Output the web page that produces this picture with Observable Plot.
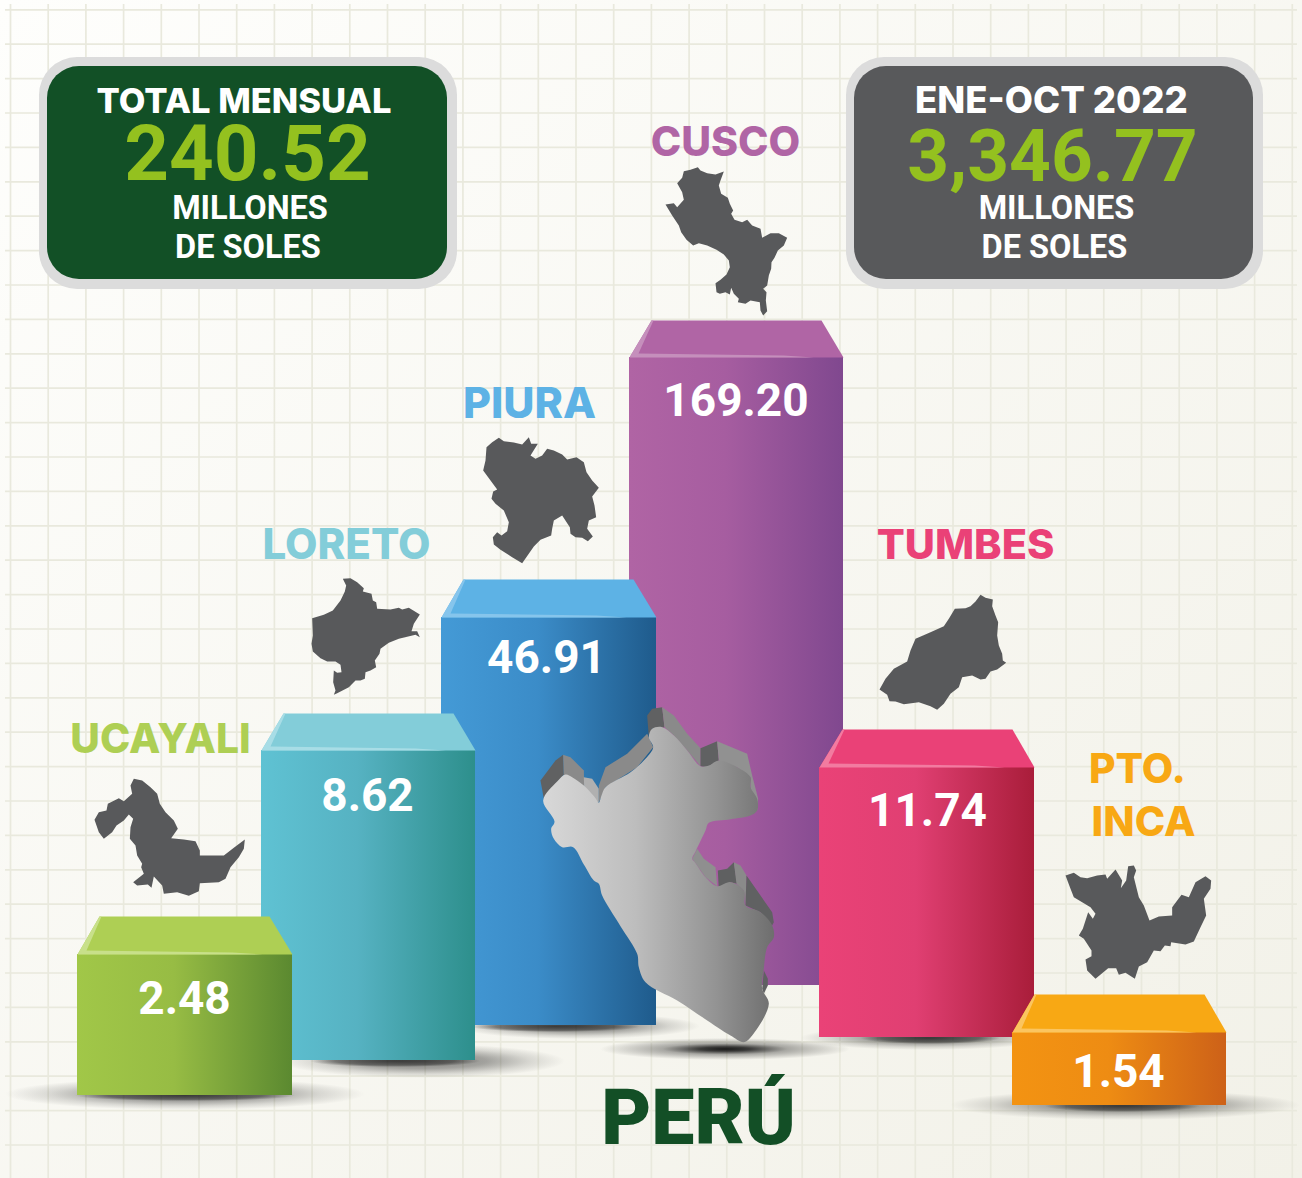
<!DOCTYPE html>
<html><head><meta charset="utf-8">
<style>html,body{margin:0;padding:0;background:#f8f7f1}svg{display:block}</style>
<script src="https://cdn.jsdelivr.net/npm/d3@7"></script>
<script src="https://cdn.jsdelivr.net/npm/@observablehq/plot@0.6"></script>
</head><body>
<script>
// Values printed on the bars (millions of soles)
const regions = ["CUSCO","PIURA","TUMBES","LORETO","UCAYALI","PTO. INCA"];
const amounts = ["169.20","46.91","11.74","8.62","2.48","1.54"];
// Drawn extents of the bars
const barLeft  = [629,441,819,261,77,1012];
const barRight = [843,656,1034,475,292,1226];
const barTop   = [357,617,767,750,954,1032];
const barBase  = [985,1025,1037,1060,1095,1105];
const backLeft = [651,463,842,283,99,1034];
const backRight= [821,633,1012,453,269,1204];
const backTop  = [320,579,729,713,916,994];
const faceStart= ["#b064a4","#449ad6","#ea4277","#5fc2d3","#a1c748","#f39312"];
const faceMid  = ["#a65da0","#3b8cc8","#e03f72","#56b2c2","#97bc44","#ee8c13"];
const faceEnd  = ["#80488f","#1f5b8c","#a91d3a","#2d8f8c","#5b8930","#cd6118"];
const topColor = ["#b065a5","#5db2e5","#ea4177","#83cdd9","#aecf54","#f8a814"];
const topEdge  = ["#c58fbc","#86c5ec","#f27ba0","#a8dde6","#c8e08a","#fbc560"];
const amountX  = [735.5,546,927,367,184,1118];
const amountY  = [401,658,811,796,999,1072];

const nameText  = ["CUSCO","PIURA","TUMBES","LORETO","UCAYALI","PTO.","INCA"];
const nameX     = [725,529,965,346,160,1137,1143];
const nameY     = [142,404,545,545,739,769,822];
const nameSize  = [41,43,41.5,42,40.8,40.8,41];
const nameColor = ["#b065a5","#5db2e5","#ea4177","#83cdd9","#aecf54","#f8a814","#f8a814"];

const panelX1 = [47,854], panelX2 = [447,1253], panelFill = ["#125026","#58595b"];
const panelHead = ["TOTAL MENSUAL","ENE-OCT 2022"], headX = [243.5,1051], headSize = [34.5,36.5];
const panelTotal = ["240.52","3,346.77"], totalX = [247,1052], totalSize = [78,73], totalY = [155,157];
const panelUnit1 = "MILLONES", unit1X = [249.5,1056];
const panelUnit2 = "DE SOLES", unit2X = [247.5,1054];

// Soft floor shadows
const shadowX1 = [5,280,455,600,800,950], shadowX2 = [365,565,700,850,1050,1300];
const shadowY1 = [1078,1044,1013,1038,1026,1090], shadowY2 = [1110,1078,1039,1060,1050,1120];
// Tight contact shadows along each bar base
const contactX1 = [75,310,470,860,1045], contactX2 = [295,480,640,1000,1200];
const contactY1 = [1090,1055,1021,1032,1100], contactY2 = [1101,1067,1032,1044,1112];

const cuscoShape = [[172,50],[180,60],[200,68],[225,72],[250,63],[240,90],[235,105],[242,130],[262,142],[268,160],[278,180],[272,190],[282,208],[305,215],[320,208],[335,225],[360,235],[365,262],[390,248],[415,248],[440,262],[430,285],[412,300],[402,322],[393,335],[392,355],[385,375],[380,405],[368,415],[378,425],[376,450],[380,482],[368,495],[360,480],[358,455],[330,450],[315,460],[292,455],[295,445],[280,430],[272,412],[268,432],[255,425],[238,430],[228,425],[225,398],[240,388],[258,372],[268,350],[265,330],[250,312],[228,298],[200,285],[175,278],[158,285],[138,268],[122,245],[115,225],[95,195],[75,162],[100,158],[110,170],[130,148],[125,125],[110,98],[125,82],[130,62],[150,58]];
const piuraShape = [[175,52],[190,62],[220,66],[245,72],[265,50],[272,70],[292,70],[270,105],[285,115],[305,105],[320,85],[340,90],[365,102],[380,117],[408,110],[430,125],[438,155],[455,180],[475,202],[455,228],[462,255],[467,290],[445,300],[440,325],[457,348],[442,362],[425,352],[405,350],[390,340],[388,320],[365,285],[340,300],[335,325],[332,345],[300,358],[280,378],[245,428],[215,410],[180,388],[160,372],[157,350],[170,335],[183,345],[200,332],[205,305],[190,270],[165,250],[153,235],[158,213],[170,207],[128,150],[135,120],[138,80],[155,65]];
const loretoShape = [[262,40],[285,38],[305,50],[325,68],[322,78],[348,85],[352,105],[362,110],[365,130],[405,132],[430,127],[440,132],[460,127],[493,147],[475,175],[468,197],[485,197],[493,215],[480,208],[430,220],[400,232],[375,250],[372,265],[358,285],[362,305],[345,315],[330,320],[328,340],[315,345],[300,345],[280,365],[245,383],[235,388],[240,375],[233,350],[235,315],[245,322],[258,320],[255,298],[240,288],[215,288],[195,278],[172,258],[168,235],[172,210],[170,158],[205,148],[232,135],[255,105],[268,78],[272,60]];
const ucayaliShape = [[190,25],[215,30],[240,50],[260,70],[268,100],[285,125],[310,150],[322,175],[302,203],[340,207],[375,212],[388,240],[388,255],[460,255],[490,232],[523,207],[520,235],[505,260],[480,290],[465,325],[445,335],[388,338],[385,362],[355,376],[320,365],[280,370],[275,345],[250,318],[243,352],[232,342],[200,345],[188,335],[220,310],[212,290],[215,280],[200,255],[195,225],[178,205],[180,170],[188,145],[175,132],[160,150],[138,165],[125,185],[100,205],[85,185],[72,148],[85,125],[108,120],[112,100],[145,83],[160,92],[185,70],[180,45]];
const tumbesShape = [[495,28],[510,37],[532,42],[530,62],[540,90],[548,110],[545,150],[550,180],[560,205],[562,225],[572,232],[545,252],[525,258],[510,280],[495,282],[470,270],[440,275],[430,305],[405,325],[385,355],[365,373],[345,362],[310,350],[265,356],[240,348],[222,347],[215,328],[192,312],[210,280],[235,250],[275,228],[285,195],[300,160],[345,140],[385,122],[400,100],[418,70],[450,68],[465,62],[480,48]];
const incaShape = [[180,60],[205,52],[225,65],[245,68],[275,60],[300,57],[305,70],[330,42],[350,75],[346,98],[362,75],[368,32],[385,30],[392,45],[385,65],[400,125],[415,150],[432,195],[460,183],[500,180],[500,155],[528,118],[550,125],[570,80],[600,62],[617,75],[615,100],[595,130],[602,180],[585,215],[565,258],[540,267],[497,260],[495,272],[478,270],[465,287],[445,285],[425,320],[400,333],[388,370],[360,352],[340,358],[332,338],[308,338],[270,370],[245,345],[240,312],[258,302],[258,285],[235,250],[220,240],[232,220],[248,170],[262,190],[270,175],[255,155],[205,125],[195,100]];
const shapeOrigin = [[640,150],[440,420],[815,585],[255,565],[70,770],[1005,855]];
const shapes = [cuscoShape,piuraShape,tumbesShape,loretoShape,ucayaliShape,incaShape];

const peruFront = [[105,237],[125,245],[160,270],[195,308],[205,322],[213,300],[225,275],[300,230],[345,190],[368,155],[355,125],[365,100],[395,95],[430,120],[470,165],[510,212],[535,210],[565,195],[620,215],[660,245],[660,275],[680,310],[680,345],[660,360],[600,371],[535,382],[525,405],[495,468],[485,490],[495,503],[525,545],[560,572],[600,560],[640,585],[645,630],[690,650],[725,690],[730,725],[710,755],[700,820],[695,880],[715,925],[665,1020],[640,1040],[600,1020],[520,968],[440,915],[345,860],[325,815],[320,775],[270,692],[215,600],[205,565],[190,555],[160,507],[128,455],[95,455],[70,430],[62,400],[72,378],[38,315],[80,258]];
const peruSides = [
  {fill:"#606162",pts:[[30,255],[75,195],[98,178],[100,237],[40,310]]},
  {fill:"#8a8a8a",pts:[[98,178],[120,185],[160,225],[162,305],[100,237]]},
  {fill:"#b0b0b0",pts:[[160,245],[185,250],[205,280],[205,322],[162,305]]},
  {fill:"#8a8a8a",pts:[[205,270],[225,215],[290,175],[350,115],[368,155],[320,215],[225,275],[205,322]]},
  {fill:"#606162",pts:[[350,60],[365,40],[395,35],[402,95],[365,100],[355,125]]},
  {fill:"#8a8a8a",pts:[[395,35],[430,60],[470,115],[510,158],[510,212],[470,165],[430,120],[402,95]]},
  {fill:"#606162",pts:[[510,158],[560,137],[565,195],[530,215],[510,212]]},
  {fill:"#919191",pts:[[560,137],[650,175],[665,240],[683,310],[680,345],[660,275],[660,245],[620,215],[565,195]]},
  {fill:"#8f8f8f",pts:[[485,490],[500,460],[520,490],[555,515],[560,572],[525,545]]},
  {fill:"#5f6061",pts:[[562,525],[590,520],[610,500],[620,565],[600,560],[565,585]]},
  {fill:"#8a8a8a",pts:[[610,500],[630,510],[648,540],[645,630],[640,585],[618,565]]},
  {fill:"#606162",pts:[[648,540],[725,650],[730,680],[725,690],[690,650],[645,630]]},
  {fill:"#606162",pts:[[700,825],[712,850],[712,870],[700,895],[695,880]]}
];
const peruOrigin = [530,695];

const fromCrop = (pts, [ox, oy]) => pts.map(([x, y]) => ({x: ox + x / 3, y: oy + y / 3}));
const gridXs = d3.range(10, 1300, 37.7);
const gridYs = d3.range(9.3, 1178, 34.4);
const strong = "Roboto, sans-serif", display = "Inter, sans-serif";

function defs() {
  const d = d3.create("svg:defs");
  const lin = (id, stops, x2 = 1, y2 = 0) => {
    const g = d.append("linearGradient").attr("id", id).attr("x1", 0).attr("y1", 0).attr("x2", x2).attr("y2", y2);
    stops.forEach(([o, c]) => g.append("stop").attr("offset", o).attr("stop-color", c));
  };
  lin("paper", [[0, "#fefefc"], [1, "#f2f1e8"]], 1, 1);
  lin("peru", [[0, "#d8d8d8"], [0.4, "#bdbdbd"], [0.75, "#939393"], [1, "#6e6e6e"]]);
  regions.forEach((_, i) => lin(`face${i}`, [[0, faceStart[i]], [0.45, faceMid[i]], [1, faceEnd[i]]]));
  const rad = (id, stops) => {
    const r = d.append("radialGradient").attr("id", id);
    stops.forEach(([o, a]) => r.append("stop").attr("offset", o).attr("stop-color", "#1a1a1a").attr("stop-opacity", a));
  };
  rad("shadow", [[0, 0.55], [0.45, 0.38], [0.75, 0.14], [1, 0]]);
  rad("shadowDark", [[0, 1], [0.2, 0.85], [0.5, 0.35], [1, 0]]);
  rad("contact", [[0, 0.7], [0.7, 0.45], [1, 0]]);
  return d.node();
}

const poly = (pts, fill, curve = "linear") => Plot.line(pts, {x: "x", y: "y", fill, stroke: "none", curve});
const label = (data, x, y, text, o) => Plot.text(data, {x: (_, i) => x[i], y: (_, i) => y[i], text, ...o});

const marks = [
  defs,
  Plot.rect([0], {x1: () => 0, x2: () => 1302, y1: () => 0, y2: () => 1178, fill: "url(#paper)"}),
  Plot.ruleX(gridXs, {y1: () => 4, y2: () => 1178, stroke: "#e9e9dd", strokeWidth: 1.7}),
  Plot.ruleY(gridYs, {x1: () => 5, x2: () => 1297, stroke: "#e9e9dd", strokeWidth: 1.7}),
  Plot.rect(shadowX1, {x1: (_, i) => shadowX1[i], x2: (_, i) => shadowX2[i], y1: (_, i) => shadowY1[i], y2: (_, i) => shadowY2[i],
    fill: (_, i) => i === 3 ? "url(#shadowDark)" : "url(#shadow)"}),
  Plot.rect(contactX1, {x1: (_, i) => contactX1[i], x2: (_, i) => contactX2[i], y1: (_, i) => contactY1[i], y2: (_, i) => contactY2[i], fill: "url(#contact)"})
];

// bars back to front
regions.forEach((_, i) => {
  marks.push(Plot.rect([i], {x1: barLeft[i], x2: barRight[i], y1: barTop[i], y2: barBase[i], fill: `url(#face${i})`}));
  const FL = {x: barLeft[i], y: barTop[i]}, FR = {x: barRight[i], y: barTop[i]},
        BR = {x: backRight[i], y: backTop[i]}, BL = {x: backLeft[i], y: backTop[i]};
  marks.push(poly([FL, BL, BR, FR], topColor[i]));
  marks.push(poly([FL, BL, {x: BL.x + 2, y: BL.y}, {x: FL.x + 9, y: FL.y - 4}, {x: FR.x - 60, y: FR.y - 2}, {x: FR.x - 30, y: FR.y}], topEdge[i]));
});

marks.push(
  ...shapes.map((s, i) => poly(fromCrop(s, shapeOrigin[i]), "#58595b")),
  ...peruSides.map((s) => poly(fromCrop(s.pts, peruOrigin), s.fill)),
  poly(fromCrop(peruFront, peruOrigin), "url(#peru)", "catmull-rom-closed"),

  // panels
  Plot.rect(panelX1, {x1: (d) => d - 8, x2: (_, i) => panelX2[i] + 10, y1: () => 57, y2: () => 289, rx: 38, fill: "#dcdcdc"}),
  Plot.rect(panelX1, {x1: (d) => d, x2: (_, i) => panelX2[i], y1: () => 66, y2: () => 279, rx: 32, fill: (_, i) => panelFill[i]}),
  ...panelHead.map((t, i) => Plot.text([t], {x: () => headX[i], y: () => 101, text: (d) => d, fontFamily: display, fontWeight: 800, fontSize: headSize[i], fill: "white"})),
  ...panelTotal.map((t, i) => Plot.text([t], {x: () => totalX[i], y: () => totalY[i], text: (d) => d, fontFamily: strong, fontWeight: 700, fontSize: totalSize[i], fill: "#94c11f"})),
  label([panelUnit1, panelUnit1], unit1X, [208.5, 208.5], (d) => d, {fontFamily: strong, fontWeight: 700, fontSize: 32.5, fill: "white"}),
  label([panelUnit2, panelUnit2], unit2X, [247, 247], (d) => d, {fontFamily: strong, fontWeight: 700, fontSize: 32.5, fill: "white"}),

  // region names and amounts
  ...nameText.map((t, i) => Plot.text([t], {x: () => nameX[i], y: () => nameY[i], text: (d) => d, fontFamily: display, fontWeight: 800, fontSize: nameSize[i], fill: nameColor[i]})),
  label(amounts, amountX, amountY, (d) => d, {fontFamily: strong, fontWeight: 700, fontSize: 46, fill: "white"}),
  Plot.text(["PERÚ"], {x: () => 698, y: () => 1119, text: (d) => d, fontFamily: strong, fontWeight: 900, fontSize: 77, fill: "#134f26"})
);

document.body.append(Plot.plot({
  width: 1302, height: 1178, margin: 0,
  x: {domain: [0, 1302], range: [0, 1302], axis: null},
  y: {domain: [0, 1178], range: [0, 1178], axis: null},
  style: {background: "transparent"},
  marks
}));
</script>
</body></html>
